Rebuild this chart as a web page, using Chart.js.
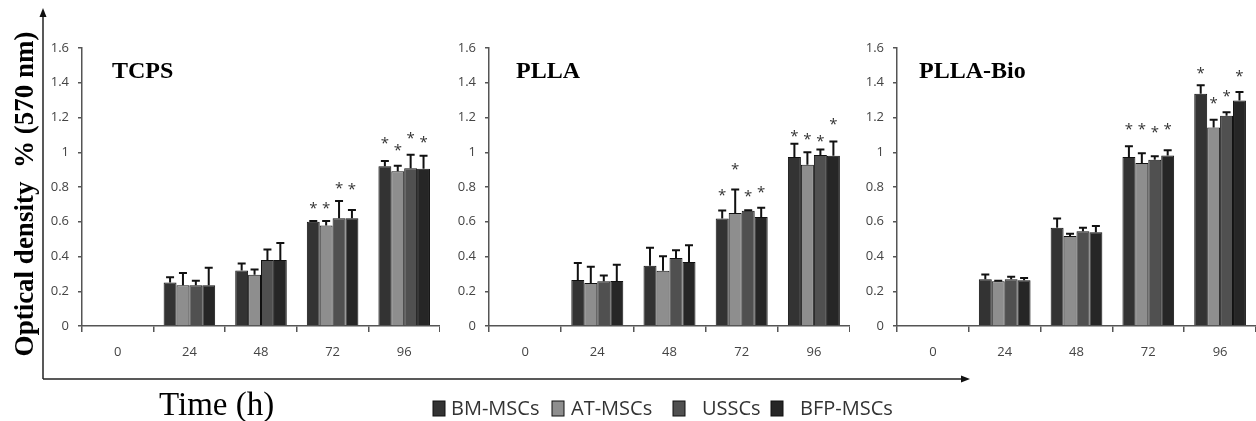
<!DOCTYPE html>
<html>
<head>
<meta charset="utf-8">
<script src="https://cdn.jsdelivr.net/npm/chart.js@4.4.0/dist/chart.umd.min.js"></script>
<style>
  body { margin: 0; background: #fff; width: 1256px; height: 421px; overflow: hidden; position: relative; }
  canvas.panel { position: absolute; top: 30px; }
  #deco { position: absolute; left: 0; top: 0; }
</style>
</head>
<body>
<canvas id="tcps" class="panel" width="395" height="350" style="left:45px"></canvas>
<canvas id="plla" class="panel" width="398" height="350" style="left:452px"></canvas>
<canvas id="pllabio" class="panel" width="396" height="350" style="left:860px"></canvas>
<svg id="deco" width="1256" height="421"></svg>
<script>
'use strict';
// categories + series
var hours = ['0', '24', '48', '72', '96'];
var seriesNames = ['BM-MSCs', 'AT-MSCs', 'USSCs', 'BFP-MSCs'];
var seriesColors = ['#333333', '#8e8e8e', '#505050', '#262626'];
var yMin = 0, yMax = 1.6, yStep = 0.2;

// TCPS (order: BM, AT, USSC, BFP)
var tcpsMean = [
  [0, 0.25, 0.32, 0.60, 0.92],
  [0, 0.235, 0.295, 0.578, 0.89],
  [0, 0.235, 0.38, 0.62, 0.908],
  [0, 0.235, 0.38, 0.62, 0.905]
];
var tcpsSd = [
  [0, 0.03, 0.04, 0.005, 0.03],
  [0, 0.07, 0.03, 0.027, 0.033],
  [0, 0.025, 0.06, 0.10, 0.078],
  [0, 0.10, 0.097, 0.048, 0.075]
];
var tcpsStar = [
  [null, null, null, 0.695, 1.064],
  [null, null, null, 0.695, 1.025],
  [null, null, null, 0.81, 1.094],
  [null, null, null, 0.80, 1.07]
];

// PLLA
var pllaMean = [
  [0, 0.265, 0.347, 0.619, 0.973],
  [0, 0.248, 0.318, 0.651, 0.928],
  [0, 0.257, 0.392, 0.663, 0.984],
  [0, 0.259, 0.368, 0.627, 0.98]
];
var pllaSd = [
  [0, 0.097, 0.103, 0.046, 0.076],
  [0, 0.093, 0.084, 0.134, 0.072],
  [0, 0.033, 0.044, 0.003, 0.032],
  [0, 0.093, 0.097, 0.053, 0.082]
];
var pllaStar = [
  [null, null, null, 0.766, 1.107],
  [null, null, null, 0.914, 1.09],
  [null, null, null, 0.762, 1.078],
  [null, null, null, 0.785, 1.175]
];

// PLLA-Bio
var bioMean = [
  [0, 0.269, 0.566, 0.973, 1.337],
  [0, 0.257, 0.518, 0.938, 1.142],
  [0, 0.269, 0.545, 0.957, 1.21],
  [0, 0.263, 0.539, 0.981, 1.298]
];
var bioSd = [
  [0, 0.028, 0.053, 0.062, 0.049],
  [0, 0.003, 0.013, 0.056, 0.045],
  [0, 0.015, 0.021, 0.02, 0.02],
  [0, 0.013, 0.036, 0.031, 0.049]
];
var bioStar = [
  [null, null, null, 1.146, 1.469],
  [null, null, null, 1.146, 1.298],
  [null, null, null, 1.129, 1.337],
  [null, null, null, 1.146, 1.454]
];

var tickFont = { family: 'Open Sans', size: 13 };

// error bars, asterisks and the panel title
var decor = {
  id: 'decor',
  afterDatasetsDraw: function (chart, args, opts) {
    var ctx = chart.ctx;
    var y = chart.scales.y;
    ctx.save();
    chart.data.datasets.forEach(function (ds, i) {
      var meta = chart.getDatasetMeta(i);
      meta.data.forEach(function (bar, j) {
        var m = ds.data[j];
        if (m > 0) {
          var top = y.getPixelForValue(m + ds.sd[j]);
          ctx.strokeStyle = '#111';
          ctx.lineWidth = 2;
          ctx.beginPath();
          ctx.moveTo(bar.x, bar.y);
          ctx.lineTo(bar.x, top);
          ctx.moveTo(bar.x - 4, top);
          ctx.lineTo(bar.x + 4, top);
          ctx.stroke();
        }
        if (ds.stars[j] != null) {
          ctx.fillStyle = '#333';
          ctx.font = '15px "Open Sans"';
          ctx.textAlign = 'center';
          ctx.textBaseline = 'middle';
          ctx.fillText('*', bar.x, y.getPixelForValue(ds.stars[j]) + 3);
        }
      });
    });
    ctx.fillStyle = '#000';
    ctx.font = 'bold 24px "Liberation Serif"';
    ctx.textAlign = 'left';
    ctx.textBaseline = 'alphabetic';
    ctx.fillText(opts.title, opts.x, 48);
    ctx.restore();
  }
};

function makePanel(id, title, titleX, means, sds, stars) {
  var datasets = seriesNames.map(function (name, i) {
    return {
      label: name,
      data: means[i],
      sd: sds[i],
      stars: stars[i],
      backgroundColor: seriesColors[i],
      borderColor: '#111',
      borderWidth: 1,
      barPercentage: 1,
      categoryPercentage: 0.72
    };
  });
  return new Chart(document.getElementById(id), {
    type: 'bar',
    data: { labels: hours, datasets: datasets },
    plugins: [decor],
    options: {
      responsive: false,
      animation: false,
      devicePixelRatio: 1,
      layout: { padding: { top: 18, left: 0, right: 0, bottom: 0 } },
      plugins: {
        legend: { display: false },
        tooltip: { enabled: false },
        decor: { title: title, x: titleX }
      },
      scales: {
        x: {
          grid: { offset: true, drawOnChartArea: false, tickLength: 6, color: '#555', lineWidth: 1.5 },
          border: { color: '#555', width: 1.5 },
          ticks: { font: tickFont, color: '#444', padding: 12, maxRotation: 0 },
          afterFit: function (s) { s.height = 54; }
        },
        y: {
          min: yMin,
          max: yMax,
          grid: { drawOnChartArea: false, tickLength: 4, color: '#555', lineWidth: 1.5 },
          border: { color: '#555', width: 1.5 },
          ticks: {
            stepSize: yStep, font: tickFont, color: '#444', padding: 9,
            callback: function (v) { return String(+v.toFixed(1)); }
          },
          afterFit: function (s) { s.width = 37; }
        }
      }
    }
  });
}

makePanel('tcps', 'TCPS', 67, tcpsMean, tcpsSd, tcpsStar);
makePanel('plla', 'PLLA', 64, pllaMean, pllaSd, pllaStar);
makePanel('pllabio', 'PLLA-Bio', 59, bioMean, bioSd, bioStar);

// outer axes, titles and legend
var NS = 'http://www.w3.org/2000/svg';
var svg = document.getElementById('deco');
function add(tag, attrs, text) {
  var el = document.createElementNS(NS, tag);
  for (var k in attrs) el.setAttribute(k, attrs[k]);
  if (text) el.textContent = text;
  svg.appendChild(el);
  return el;
}
add('line', { x1: 43, y1: 16, x2: 43, y2: 379, stroke: '#222', 'stroke-width': 1.5 });
add('polygon', { points: '43,8 39.5,17 46.5,17', fill: '#111' });
add('line', { x1: 43, y1: 379, x2: 962, y2: 379, stroke: '#222', 'stroke-width': 1.5 });
add('polygon', { points: '970,379 961,375.5 961,382.5', fill: '#111' });
add('text', { x: 0, y: 0, transform: 'translate(24,194) rotate(-90)', 'text-anchor': 'middle', 'dominant-baseline': 'central',
  style: 'white-space:pre', 'font-family': 'Liberation Serif', 'font-weight': 'bold', 'font-size': 27, fill: '#000' }, 'Optical density  % (570 nm)');
add('text', { x: 159, y: 415, 'font-family': 'Liberation Serif', 'font-size': 33, fill: '#000' }, 'Time (h)');

var legendBoxX = [433, 552, 673, 771];
var legendTextX = [451, 571, 702, 800];
seriesNames.forEach(function (name, i) {
  add('rect', { x: legendBoxX[i], y: 401, width: 12, height: 15, fill: seriesColors[i], stroke: '#111', 'stroke-width': 1 });
  add('text', { x: legendTextX[i], y: 415, 'font-family': 'Open Sans', 'font-size': 20, fill: '#333' }, name);
});
</script>
</body>
</html>
